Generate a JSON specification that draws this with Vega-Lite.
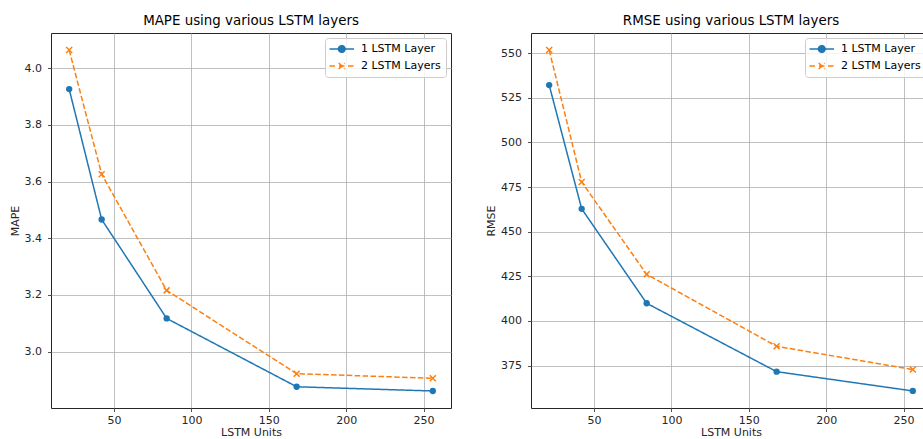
{
  "$schema": "https://vega.github.io/schema/vega-lite/v6.json",
  "background": "white",
  "padding": {"left": 8, "top": 13, "right": 0, "bottom": 3},
  "autosize": {"type": "pad"},
  "config": {
    "font": "DejaVu Sans",
    "view": {"stroke": "#262626", "strokeWidth": 1},
    "axis": {
      "grid": true, "gridColor": "#b0b0b0", "gridWidth": 0.8, "domain": false,
      "tickColor": "#262626", "tickSize": 3.5, "tickWidth": 0.8,
      "labelFont": "DejaVu Sans", "labelFontSize": 11, "labelColor": "#262626",
      "titleFont": "DejaVu Sans", "titleFontSize": 11, "titleFontWeight": "normal", "titleColor": "#262626"
    },
    "axisX": {"labelPadding": 3, "titlePadding": 1},
    "axisY": {"labelPadding": 6, "titlePadding": 4},
    "title": {"font": "DejaVu Sans", "fontSize": 13.4, "fontWeight": "normal", "color": "#000000", "anchor": "middle", "offset": 6},
    "legend": {
      "orient": "top-right", "offset": 5, "fillColor": "rgba(255,255,255,0.8)", "strokeColor": "#cccccc",
      "cornerRadius": 3, "padding": 5, "labelFont": "DejaVu Sans", "labelFontSize": 11, "labelColor": "#000000",
      "symbolSize": 100, "symbolStrokeWidth": 1.5, "labelOffset": 19, "rowPadding": 4
    }
  },
  "data": {
    "values": [
      {"units": 21, "series": "1 LSTM Layer", "mape": 3.926, "rmse": 532.1},
      {"units": 42, "series": "1 LSTM Layer", "mape": 3.466, "rmse": 462.8},
      {"units": 84, "series": "1 LSTM Layer", "mape": 3.117, "rmse": 409.9},
      {"units": 168, "series": "1 LSTM Layer", "mape": 2.876, "rmse": 371.6},
      {"units": 256, "series": "1 LSTM Layer", "mape": 2.861, "rmse": 360.8},
      {"units": 21, "series": "2 LSTM Layers", "mape": 4.064, "rmse": 551.7},
      {"units": 42, "series": "2 LSTM Layers", "mape": 3.626, "rmse": 477.8},
      {"units": 84, "series": "2 LSTM Layers", "mape": 3.216, "rmse": 426.1},
      {"units": 168, "series": "2 LSTM Layers", "mape": 2.922, "rmse": 385.8},
      {"units": 256, "series": "2 LSTM Layers", "mape": 2.906, "rmse": 372.8}
    ]
  },
  "spacing": 80,
  "bounds": "flush",
  "resolve": {
    "scale": {"color": "independent", "strokeDash": "independent", "x": "independent", "y": "independent"},
    "legend": {"color": "independent", "strokeDash": "independent"}
  },
  "hconcat": [
    {
      "width": 400, "height": 375,
      "title": "MAPE using various LSTM layers",
      "layer": [
        {
          "mark": {"type": "line", "strokeWidth": 1.5},
          "encoding": {
            "x": {"field": "units", "type": "quantitative", "scale": {"domain": [9.25, 267.75], "nice": false, "zero": false}, "axis": {"values": [50, 100, 150, 200, 250], "title": "LSTM Units"}},
            "y": {"field": "mape", "type": "quantitative", "scale": {"domain": [2.801, 4.124], "nice": false, "zero": false}, "axis": {"values": [3.0, 3.2, 3.4, 3.6, 3.8, 4.0], "format": ".1f", "title": "MAPE"}},
            "color": {"field": "series", "type": "nominal", "scale": {"domain": ["1 LSTM Layer", "2 LSTM Layers"], "range": ["#1f77b4", "#ff7f0e"]},
              "legend": {"title": null, "encode": {"symbols": {"update": {
                "shape": {"signal": "datum.value === '1 LSTM Layer' ? 'M-1.3,0L3.6,0M0.48,0A0.67,0.67 0 1,0 1.82,0A0.67,0.67 0 1,0 0.48,0Z' : 'M-1.3,0L-0.1,0M0.6,0L1.7,0M2.4,0L3.6,0M0.55,-0.6L1.75,0.6M0.55,0.6L1.75,-0.6'"},
                "fill": {"signal": "datum.value === '1 LSTM Layer' ? '#1f77b4' : 'transparent'"},
                "strokeDash": {"value": []}
              }}}}},
            "strokeDash": {"field": "series", "type": "nominal", "scale": {"domain": ["1 LSTM Layer", "2 LSTM Layers"], "range": [[1, 0], [5.5, 2.4]]}, "legend": null}
          }
        },
        {
          "transform": [{"filter": "datum.series === '1 LSTM Layer'"}],
          "mark": {"type": "circle", "size": 40, "color": "#1f77b4", "opacity": 1},
          "encoding": {"x": {"field": "units", "type": "quantitative"}, "y": {"field": "mape", "type": "quantitative"}}
        },
        {
          "transform": [{"filter": "datum.series === '2 LSTM Layers'"}],
          "mark": {"type": "point", "shape": "M-1,-1L1,1M-1,1L1,-1", "size": 36, "color": "#ff7f0e", "strokeWidth": 1.5, "opacity": 1, "filled": false},
          "encoding": {"x": {"field": "units", "type": "quantitative"}, "y": {"field": "mape", "type": "quantitative"}}
        }
      ]
    },
    {
      "width": 400, "height": 375,
      "title": "RMSE using various LSTM layers",
      "layer": [
        {
          "mark": {"type": "line", "strokeWidth": 1.5},
          "encoding": {
            "x": {"field": "units", "type": "quantitative", "scale": {"domain": [9.25, 267.75], "nice": false, "zero": false}, "axis": {"values": [50, 100, 150, 200, 250], "title": "LSTM Units"}},
            "y": {"field": "rmse", "type": "quantitative", "scale": {"domain": [351.25, 561.25], "nice": false, "zero": false}, "axis": {"values": [375, 400, 425, 450, 475, 500, 525, 550], "title": "RMSE"}},
            "color": {"field": "series", "type": "nominal", "scale": {"domain": ["1 LSTM Layer", "2 LSTM Layers"], "range": ["#1f77b4", "#ff7f0e"]},
              "legend": {"title": null, "encode": {"symbols": {"update": {
                "shape": {"signal": "datum.value === '1 LSTM Layer' ? 'M-1.3,0L3.6,0M0.48,0A0.67,0.67 0 1,0 1.82,0A0.67,0.67 0 1,0 0.48,0Z' : 'M-1.3,0L-0.1,0M0.6,0L1.7,0M2.4,0L3.6,0M0.55,-0.6L1.75,0.6M0.55,0.6L1.75,-0.6'"},
                "fill": {"signal": "datum.value === '1 LSTM Layer' ? '#1f77b4' : 'transparent'"},
                "strokeDash": {"value": []}
              }}}}},
            "strokeDash": {"field": "series", "type": "nominal", "scale": {"domain": ["1 LSTM Layer", "2 LSTM Layers"], "range": [[1, 0], [5.5, 2.4]]}, "legend": null}
          }
        },
        {
          "transform": [{"filter": "datum.series === '1 LSTM Layer'"}],
          "mark": {"type": "circle", "size": 40, "color": "#1f77b4", "opacity": 1},
          "encoding": {"x": {"field": "units", "type": "quantitative"}, "y": {"field": "rmse", "type": "quantitative"}}
        },
        {
          "transform": [{"filter": "datum.series === '2 LSTM Layers'"}],
          "mark": {"type": "point", "shape": "M-1,-1L1,1M-1,1L1,-1", "size": 36, "color": "#ff7f0e", "strokeWidth": 1.5, "opacity": 1, "filled": false},
          "encoding": {"x": {"field": "units", "type": "quantitative"}, "y": {"field": "rmse", "type": "quantitative"}}
        }
      ]
    }
  ]
}
